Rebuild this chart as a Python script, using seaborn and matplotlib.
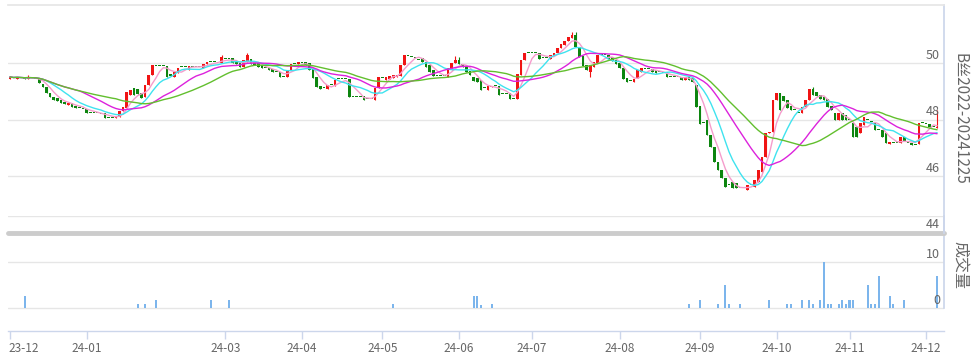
import numpy as np
import pandas as pd
import matplotlib
matplotlib.use('Agg')
import matplotlib.pyplot as plt
import matplotlib.transforms as mtransforms
import seaborn as sns

# ---------------- data ----------------
opens = [
    49.45, 49.47, 49.45, 49.47, 49.51, 49.45, 49.47, 49.45, 49.43, 49.26,
    49.15, 48.94, 48.80, 48.76, 48.69, 48.62, 48.52, 48.59, 48.48, 48.41,
    48.39, 48.37, 48.23, 48.23, 48.23, 48.21, 48.23, 48.06, 48.06, 48.06,
    48.09, 48.30, 48.41, 48.87, 49.12, 49.08, 48.94, 48.80, 49.22, 49.58,
    49.89, 49.89, 49.89, 49.89, 49.61, 49.51, 49.65, 49.86, 49.86, 49.75,
    49.86, 49.86, 49.86, 49.82, 49.96, 50.04, 50.04, 50.00, 50.00, 50.14,
    50.14, 50.18, 50.04, 50.00, 49.86, 50.04, 50.14, 50.04, 50.00, 49.93,
    49.82, 49.82, 49.79, 49.68, 49.68, 49.51, 49.51, 49.75, 49.96, 49.96,
    50.00, 50.04, 50.00, 49.79, 49.51, 49.19, 49.12, 49.08, 49.22, 49.19,
    49.43, 49.43, 49.43, 49.43, 48.80, 48.80, 48.80, 48.83, 48.73, 48.73,
    48.69, 49.12, 49.47, 49.40, 49.43, 49.47, 49.51, 49.54, 49.93, 50.25,
    50.21, 50.18, 50.11, 50.18, 50.04, 49.93, 49.75, 49.54, 49.54, 49.54,
    49.51, 49.75, 50.00, 50.11, 49.96, 49.86, 49.72, 49.51, 49.47, 49.40,
    49.12, 49.05, 49.15, 49.19, 49.19, 48.90, 48.90, 48.94, 48.73, 48.73,
    49.58, 50.11, 50.35, 50.35, 50.35, 50.35, 50.18, 50.18, 50.14, 50.25,
    50.35, 50.53, 50.64, 50.78, 50.88, 50.99, 50.57, 50.25, 49.93, 49.68,
    49.86, 50.00, 50.28, 50.28, 50.28, 50.21, 50.11, 50.00, 49.82, 49.47,
    49.36, 49.33, 49.47, 49.68, 49.79, 49.79, 49.79, 49.75, 49.68, 49.65,
    49.68, 49.51, 49.51, 49.51, 49.51, 49.40, 49.51, 49.47, 49.22, 48.48,
    47.88, 47.99, 47.46, 47.03, 46.50, 46.22, 45.94, 45.69, 45.80, 45.76,
    45.58, 45.58, 45.51, 45.69, 45.62, 45.80, 46.15, 46.68, 47.53, 47.56,
    48.69, 48.94, 48.83, 48.69, 48.48, 48.34, 48.23, 48.23, 48.45, 48.69,
    49.08, 48.98, 48.87, 48.80, 48.73, 48.48, 48.23, 47.99, 48.23, 48.16,
    47.99, 47.88, 47.74, 47.53, 47.81, 47.99, 47.92, 47.88, 47.63, 47.63,
    47.53, 47.14, 47.17, 47.17, 47.17, 47.39, 47.17, 47.17, 47.10, 47.14,
    47.88, 47.84, 47.84, 47.74, 47.70,
]
closes = [
    49.51, 49.47, 49.51, 49.47, 49.45, 49.51, 49.47, 49.45, 49.29, 49.15,
    48.94, 48.80, 48.69, 48.66, 48.59, 48.55, 48.59, 48.45, 48.41, 48.41,
    48.39, 48.23, 48.23, 48.23, 48.23, 48.21, 48.06, 48.06, 48.06, 48.13,
    48.30, 48.45, 48.98, 49.05, 48.87, 48.90, 48.76, 49.22, 49.58, 49.93,
    49.89, 49.89, 49.89, 49.51, 49.54, 49.68, 49.82, 49.86, 49.86, 49.89,
    49.86, 49.86, 49.86, 49.96, 50.04, 50.04, 50.04, 50.00, 50.21, 50.14,
    50.14, 50.00, 49.96, 49.86, 50.11, 50.28, 49.96, 49.93, 49.86, 49.82,
    49.82, 49.75, 49.68, 49.68, 49.51, 49.51, 49.75, 49.96, 49.96, 50.04,
    50.00, 49.93, 49.75, 49.47, 49.15, 49.08, 49.12, 49.22, 49.22, 49.40,
    49.43, 49.43, 49.43, 48.80, 48.80, 48.80, 48.80, 48.69, 48.73, 48.73,
    49.12, 49.51, 49.47, 49.51, 49.54, 49.58, 49.58, 49.93, 50.28, 50.25,
    50.21, 50.18, 50.11, 50.04, 49.86, 49.68, 49.54, 49.54, 49.54, 49.54,
    49.82, 50.00, 50.11, 49.96, 49.86, 49.68, 49.58, 49.36, 49.33, 49.05,
    49.12, 49.19, 49.19, 49.19, 48.87, 48.90, 48.90, 48.73, 48.73, 49.61,
    50.11, 50.35, 50.35, 50.35, 50.35, 50.14, 50.18, 50.18, 50.28, 50.35,
    50.53, 50.67, 50.78, 50.92, 50.99, 50.57, 50.21, 49.89, 49.75, 49.93,
    50.04, 50.28, 50.28, 50.28, 50.14, 50.07, 49.96, 49.82, 49.43, 49.33,
    49.36, 49.43, 49.75, 49.82, 49.79, 49.79, 49.68, 49.65, 49.68, 49.65,
    49.51, 49.51, 49.51, 49.51, 49.40, 49.51, 49.40, 49.33, 48.45, 47.84,
    47.88, 47.46, 47.03, 46.50, 46.22, 45.94, 45.62, 45.69, 45.58, 45.58,
    45.58, 45.58, 45.69, 45.69, 45.87, 46.22, 46.68, 47.53, 47.56, 48.69,
    48.94, 48.34, 48.66, 48.41, 48.34, 48.34, 48.23, 48.45, 48.69, 49.08,
    48.87, 48.83, 48.73, 48.69, 48.45, 48.34, 47.99, 48.23, 47.99, 47.99,
    47.99, 47.39, 47.39, 47.88, 48.09, 47.99, 47.92, 47.63, 47.63, 47.39,
    47.17, 47.21, 47.17, 47.17, 47.39, 47.24, 47.17, 47.10, 47.10, 47.88,
    47.88, 47.84, 47.74, 47.74, 47.74,
]
highs = [
    49.54, 49.47, 49.51, 49.47, 49.51, 49.58, 49.47, 49.45, 49.43, 49.26,
    49.15, 48.94, 48.80, 48.76, 48.69, 48.62, 48.59, 48.59, 48.48, 48.41,
    48.39, 48.37, 48.23, 48.23, 48.23, 48.21, 48.23, 48.06, 48.06, 48.13,
    48.30, 48.45, 48.98, 49.05, 49.12, 49.08, 48.94, 49.22, 49.58, 49.93,
    49.89, 49.89, 49.89, 49.89, 49.61, 49.68, 49.82, 49.86, 49.86, 49.89,
    49.86, 49.86, 49.86, 49.96, 50.04, 50.04, 50.04, 50.00, 50.28, 50.14,
    50.14, 50.18, 50.04, 50.00, 50.11, 50.35, 50.14, 50.04, 50.00, 49.93,
    49.82, 49.82, 49.79, 49.68, 49.68, 49.51, 49.75, 49.96, 49.96, 50.04,
    50.00, 50.04, 50.00, 49.79, 49.51, 49.19, 49.12, 49.22, 49.22, 49.40,
    49.43, 49.43, 49.43, 49.43, 48.80, 48.80, 48.80, 48.83, 48.73, 48.73,
    49.12, 49.51, 49.47, 49.51, 49.54, 49.58, 49.58, 49.93, 50.28, 50.25,
    50.21, 50.18, 50.11, 50.18, 50.04, 49.93, 49.75, 49.54, 49.54, 49.54,
    49.82, 50.00, 50.25, 50.21, 49.96, 49.86, 49.72, 49.51, 49.47, 49.40,
    49.12, 49.19, 49.19, 49.19, 49.19, 48.90, 48.90, 48.94, 48.73, 49.61,
    50.11, 50.35, 50.35, 50.35, 50.35, 50.35, 50.18, 50.18, 50.28, 50.35,
    50.53, 50.67, 50.78, 50.92, 51.10, 51.10, 50.57, 50.25, 49.93, 49.93,
    50.04, 50.28, 50.28, 50.28, 50.28, 50.21, 50.11, 50.00, 49.82, 49.47,
    49.36, 49.43, 49.75, 49.82, 49.79, 49.79, 49.79, 49.75, 49.68, 49.65,
    49.68, 49.51, 49.51, 49.51, 49.51, 49.51, 49.51, 49.47, 49.22, 48.48,
    47.88, 47.99, 47.46, 47.03, 46.50, 46.22, 45.94, 45.69, 45.80, 45.76,
    45.58, 45.58, 45.69, 45.69, 45.87, 46.22, 46.68, 47.53, 47.56, 48.69,
    48.94, 48.94, 48.83, 48.69, 48.48, 48.34, 48.23, 48.45, 48.69, 49.08,
    49.15, 48.98, 48.87, 48.80, 48.73, 48.48, 48.23, 48.23, 48.23, 48.16,
    47.99, 47.88, 47.74, 47.88, 48.09, 47.99, 47.92, 47.88, 47.63, 47.63,
    47.53, 47.21, 47.17, 47.17, 47.39, 47.39, 47.17, 47.17, 47.10, 47.88,
    47.88, 47.84, 47.84, 47.74, 48.34,
]
lows = [
    49.45, 49.47, 49.45, 49.47, 49.45, 49.45, 49.47, 49.45, 49.29, 49.15,
    48.94, 48.80, 48.69, 48.66, 48.59, 48.55, 48.52, 48.45, 48.41, 48.41,
    48.39, 48.23, 48.23, 48.23, 48.23, 48.21, 48.06, 48.06, 48.06, 48.06,
    48.09, 48.30, 48.41, 48.87, 48.87, 48.90, 48.76, 48.80, 49.22, 49.58,
    49.89, 49.89, 49.89, 49.51, 49.54, 49.51, 49.65, 49.86, 49.86, 49.75,
    49.86, 49.86, 49.86, 49.82, 49.96, 50.04, 50.04, 50.00, 50.00, 50.14,
    50.14, 50.00, 49.96, 49.86, 49.86, 50.04, 49.96, 49.93, 49.86, 49.82,
    49.82, 49.75, 49.68, 49.68, 49.51, 49.51, 49.51, 49.75, 49.96, 49.96,
    50.00, 49.93, 49.75, 49.47, 49.15, 49.08, 49.12, 49.08, 49.22, 49.19,
    49.43, 49.43, 49.43, 48.80, 48.80, 48.80, 48.80, 48.69, 48.73, 48.73,
    48.69, 49.12, 49.47, 49.40, 49.43, 49.47, 49.51, 49.54, 49.93, 50.25,
    50.21, 50.18, 50.11, 50.04, 49.86, 49.68, 49.54, 49.54, 49.54, 49.54,
    49.51, 49.75, 50.00, 49.96, 49.86, 49.68, 49.58, 49.36, 49.33, 49.05,
    49.12, 49.05, 49.15, 49.19, 48.87, 48.90, 48.90, 48.73, 48.73, 48.73,
    49.58, 50.11, 50.35, 50.35, 50.35, 50.14, 50.18, 50.18, 50.14, 50.25,
    50.35, 50.53, 50.64, 50.78, 50.88, 50.57, 50.21, 49.89, 49.75, 49.51,
    49.86, 50.00, 50.28, 50.28, 50.14, 50.07, 49.96, 49.82, 49.43, 49.33,
    49.36, 49.33, 49.47, 49.68, 49.79, 49.79, 49.68, 49.65, 49.68, 49.65,
    49.51, 49.51, 49.51, 49.51, 49.40, 49.40, 49.40, 49.33, 48.45, 47.84,
    47.88, 47.46, 47.03, 46.50, 46.22, 45.94, 45.62, 45.69, 45.58, 45.58,
    45.58, 45.58, 45.51, 45.69, 45.62, 45.80, 46.15, 46.68, 47.53, 47.56,
    48.69, 48.34, 48.66, 48.41, 48.34, 48.34, 48.23, 48.23, 48.45, 48.69,
    48.87, 48.83, 48.73, 48.69, 48.45, 48.34, 47.99, 47.99, 47.99, 47.99,
    47.99, 47.39, 47.39, 47.53, 47.81, 47.99, 47.92, 47.63, 47.63, 47.39,
    47.17, 47.14, 47.17, 47.17, 47.17, 47.24, 47.17, 47.10, 47.10, 47.14,
    47.88, 47.84, 47.74, 47.74, 47.70,
]
volume = [
    0, 0, 0, 0, 2.7, 0, 0, 0, 0, 0, 0, 0, 0, 0, 0, 0, 0, 0, 0, 0,
    0, 0, 0, 0, 0, 0, 0, 0, 0, 0, 0, 0, 0, 0, 0, 0.8, 0, 0.8, 0, 0,
    1.8, 0, 0, 0, 0, 0, 0, 0, 0, 0, 0, 0, 0, 0, 0, 1.8, 0, 0, 0, 0,
    1.8, 0, 0, 0, 0, 0, 0, 0, 0, 0, 0, 0, 0, 0, 0, 0, 0, 0, 0, 0,
    0, 0, 0, 0, 0, 0, 0, 0, 0, 0, 0, 0, 0, 0, 0, 0, 0, 0, 0, 0,
    0, 0, 0, 0, 0, 0.8, 0, 0, 0, 0, 0, 0, 0, 0, 0, 0, 0, 0, 0, 0,
    0, 0, 0, 0, 0, 0, 0, 2.7, 2.7, 0.6, 0, 0, 0.8, 0, 0, 0, 0, 0, 0, 0,
    0, 0, 0, 0, 0, 0, 0, 0, 0, 0, 0, 0, 0, 0, 0, 0, 0, 0, 0, 0,
    0, 0, 0, 0, 0, 0, 0, 0, 0, 0, 0, 0, 0, 0, 0, 0, 0, 0, 0, 0,
    0, 0, 0, 0, 0, 0, 0.8, 0, 0, 1.8, 0, 0, 0, 0, 0.8, 0, 5.0, 0.8, 0, 0,
    0.8, 0, 0, 0, 0, 0, 0, 0, 1.8, 0, 0, 0, 0, 0.8, 0.8, 0, 0, 1.8, 0, 1.8,
    0.8, 0, 1.8, 10.0, 0.8, 0.8, 0, 0.8, 1.8, 0.8, 1.8, 1.8, 0, 0, 0, 5.0, 0.8, 0.8, 6.9, 0,
    0, 2.7, 0.8, 0, 0, 1.8, 0, 0, 0, 0, 0, 0, 0, 0, 6.9,
]
month_labels = ['23-12', '24-01', '24-03', '24-04', '24-05', '24-06',
                '24-07', '24-08', '24-09', '24-10', '24-11', '24-12']
month_pos = [0, 21, 59, 80, 102, 123, 143, 167, 189, 210, 230, 251]
ma_windows = [5, 10, 20, 30]
price_ticks = [44, 46, 48, 50]
volume_ticks = [0, 10]
series_title = 'B丝2022-20241225'
volume_title = '成交量'

n = len(closes)
assert len(opens) == n and len(highs) == n and len(lows) == n and len(volume) == n, \
    (len(opens), len(closes), len(highs), len(lows), len(volume))

# ---------------- style ----------------
sns.set_theme(style='white')
plt.rcParams['font.family'] = ['Noto Sans CJK SC', 'DejaVu Sans']

RED, GREEN = '#f01414', '#0d850f'
MA_COLORS = {'MA5': '#f59ccc', 'MA10': '#3fe3ef', 'MA20': '#dc22dc', 'MA30': '#62bf2e'}
GRID = '#e6e6e6'
AXIS = '#ccd6eb'
TXT = '#666666'

W, H = 973, 360
fig = plt.figure(figsize=(W / 100, H / 100), dpi=100)
fig.patch.set_facecolor('white')


def rect(l, t, r, b):
    return [l / W, 1 - b / H, (r - l) / W, (b - t) / H]


axv = fig.add_axes(rect(8, 216, 944, 331))
axp = fig.add_axes(rect(8, 5, 944, 233))

idx = np.arange(n)
step = 3.65
xmin = -2 / step
xmax = xmin + 936 / step

o = np.array(opens); c = np.array(closes)
hi = np.array(highs); lo = np.array(lows)
up = c > o
cols = np.where(up, RED, GREEN)

# ---------------- volume panel ----------------
axv.set_xlim(xmin, xmax)
axv.set_ylim(-5, 20)
axv.set_facecolor('white')
for v in [0, 10, 20]:
    axv.axhline(v, color=GRID, lw=1, zorder=0)
axv.bar(idx, volume, width=0.55, color='#7cb5ec', linewidth=0, zorder=2)
for s in ['left', 'top']:
    axv.spines[s].set_visible(False)
axv.spines['bottom'].set_color(AXIS)
axv.spines['bottom'].set_linewidth(1)
axv.spines['right'].set_color(AXIS)
axv.spines['right'].set_bounds(0, 20)
axv.set_yticks([])
axv.set_xticks(month_pos)
axv.set_xticklabels(month_labels)
axv.tick_params(axis='x', bottom=True, direction='out', length=6, width=1,
                color=AXIS, labelcolor=TXT, labelsize=8.5, pad=2)
first_lbl = axv.get_xticklabels()[0]
first_lbl.set_horizontalalignment('left')
first_lbl.set_transform(first_lbl.get_transform() +
                        mtransforms.ScaledTranslation(-2 / 100, 0, fig.dpi_scale_trans))
tv = mtransforms.offset_copy(mtransforms.blended_transform_factory(axv.transAxes, axv.transData),
                             fig=fig, x=0, y=1.5, units='dots')
for v in volume_ticks:
    axv.text((940 - 8) / 936, v, str(v), transform=tv, ha='right', va='bottom',
             fontsize=9, color=TXT)

# ---------------- price panel ----------------
axp.patch.set_alpha(0)
axp.set_xlim(xmin, xmax)
axp.set_ylim(44, 52.05)
for v in [46, 48, 50]:
    axp.axhline(v, color=GRID, lw=1, zorder=0)
axp.axhline(44, color='#cccccc', lw=3.5, zorder=1, clip_on=False)

axp.vlines(idx, lo, hi, colors=cols, lw=0.8, zorder=3)
body_h = np.maximum(np.abs(c - o), 0.035)
axp.bar(idx, body_h, bottom=np.minimum(o, c), width=0.72, color=cols, linewidth=0, zorder=4)

df = pd.DataFrame({'idx': idx, 'close': c})
for w in ma_windows:
    df[f'MA{w}'] = df['close'].rolling(w, min_periods=1).mean()
long = df.melt(id_vars='idx', value_vars=[f'MA{w}' for w in ma_windows],
               var_name='ma', value_name='value')
sns.lineplot(data=long, x='idx', y='value', hue='ma', palette=MA_COLORS,
             ax=axp, legend=False, linewidth=1.0, zorder=5)
axp.set_xlabel('')
axp.set_ylabel('')
axp.set_xticks([])
axp.set_yticks([])
for s in ['left', 'bottom']:
    axp.spines[s].set_visible(False)
axp.spines['top'].set_color(GRID)
axp.spines['right'].set_color(AXIS)

tp = mtransforms.offset_copy(mtransforms.blended_transform_factory(axp.transAxes, axp.transData),
                             fig=fig, x=0, y=1.5, units='dots')
for v in price_ticks:
    axp.text((940 - 8) / 936, v, str(v), transform=tp, ha='right', va='bottom',
             fontsize=9, color=TXT, zorder=6)

fig.text(960 / W, 1 - 119 / H, series_title, rotation=270, ha='center', va='center',
         fontsize=11, color=TXT)
fig.text(960 / W, 1 - 265 / H, volume_title, rotation=270, ha='center', va='center',
         fontsize=11.5, color=TXT)

fig.savefig('out.png', dpi=100)
